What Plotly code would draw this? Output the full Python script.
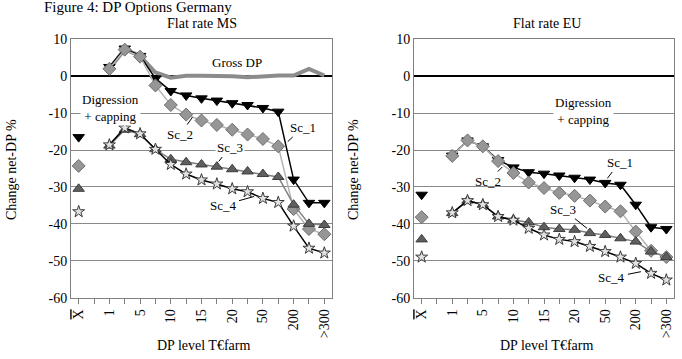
import plotly.graph_objects as go

# ---------------- data ----------------
categories = ["<span style='text-decoration:overline'>X</span>", "", "1", "", "5", "", "10", "", "15", "",
              "20", "", "50", "", "200", "", ">300"]
y_ticks = [10, 0, -10, -20, -30, -40, -50, -60]
y_tick_text = ["10", "0", "-10", "-20", "-30", "-40", "-50", "-60"]

# Flat rate MS (left panel); values for categories index 2..16, mean at index 0
ms_gross = [2.0, 7.3, 5.5, 1.0, -0.4, 0.1, 0.1, 0.1, 0.0, -0.3, 0.0, 0.2, 0.2, 2.0, 0.2]
ms_sc1 = [2.5, 7.5, 5.5, -0.6, -4.0, -5.2, -6.0, -6.6, -7.3, -7.8, -8.6, -9.6, -28.0, -34.3, -34.3]
ms_sc2 = [2.0, 7.2, 5.3, -2.5, -7.8, -10.4, -12.0, -13.2, -14.5, -15.8, -17.0, -19.0, -36.0, -41.4, -42.8]
ms_sc3 = [-18.8, -14.5, -15.7, -19.8, -22.5, -23.3, -23.9, -24.5, -25.2, -25.8, -26.5, -27.3, -34.8, -40.0, -40.3]
ms_sc4 = [-18.6, -14.0, -15.6, -19.8, -23.9, -26.5, -28.1, -29.2, -30.5, -31.3, -33.1, -34.2, -40.6, -46.6, -47.9]
ms_mean = [-16.5, -24.3, -30.5, -36.7]   # Sc_1..Sc_4 at X-bar

# Flat rate EU (right panel)
eu_sc1 = [-21.5, -17.4, -19.0, -22.7, -24.7, -26.0, -26.4, -26.9, -27.5, -28.0, -28.9, -29.4, -34.8, -40.9, -41.4]
eu_sc2 = [-21.6, -17.4, -19.0, -23.0, -26.2, -28.8, -30.3, -31.6, -32.4, -33.7, -35.3, -36.6, -42.1, -47.3, -49.0]
eu_sc3 = [-37.1, -33.7, -34.8, -38.0, -38.9, -39.6, -40.9, -41.4, -41.6, -42.5, -43.0, -43.9, -44.8, -47.5, -49.0]
eu_sc4 = [-37.0, -33.7, -34.8, -38.0, -39.0, -41.2, -43.0, -44.2, -44.8, -46.1, -47.5, -49.0, -50.7, -53.4, -55.2]
eu_mean = [-32.1, -38.2, -44.2, -49.0]

# ---------------- styling ----------------
W, H = 682, 359
FONT = "Liberation Serif, Times New Roman, serif"
x_pos = list(range(len(categories)))
x_series = x_pos[2:]

styles = {
    "Sc_1": dict(line=dict(color="black", width=1.5),
                 marker=dict(symbol="triangle-down", size=10, color="black",
                             line=dict(color="black", width=1))),
    "Sc_2": dict(line=dict(color="#b4b4b4", width=1.5),
                 marker=dict(symbol="diamond", size=10, color="#969696",
                             line=dict(color="#6e6e6e", width=1))),
    "Sc_3": dict(line=dict(color="#7f7f7f", width=1.5),
                 marker=dict(symbol="triangle-up", size=10, color="#5f5f5f",
                             line=dict(color="#3c3c3c", width=1))),
    "Sc_4": dict(line=dict(color="black", width=1.5),
                 marker=dict(symbol="star", size=9, color="#e2e2e2",
                             line=dict(color="#3a3a3a", width=1))),
}

fig = go.Figure()


def add_panel(xa, ya, series, means, gross=None):
    if gross is not None:
        fig.add_trace(go.Scatter(x=x_series, y=gross, mode="lines", xaxis=xa, yaxis=ya,
                                 line=dict(color="#8c8c8c", width=4), showlegend=False,
                                 hoverinfo="skip"))
    for (name, vals), m in zip(series.items(), means):
        st = styles[name]
        xs = [x_pos[0], x_pos[1]] + x_series
        ys = [m, None] + vals
        fig.add_trace(go.Scatter(x=xs, y=ys, mode="lines+markers", xaxis=xa, yaxis=ya,
                                 line=st["line"], marker=st["marker"], connectgaps=False,
                                 showlegend=False, name=name))


add_panel("x", "y", {"Sc_1": ms_sc1, "Sc_2": ms_sc2, "Sc_3": ms_sc3, "Sc_4": ms_sc4}, ms_mean, ms_gross)
add_panel("x2", "y2", {"Sc_1": eu_sc1, "Sc_2": eu_sc2, "Sc_3": eu_sc3, "Sc_4": eu_sc4}, eu_mean)

ydom = [1 - 297.7 / H, 1 - 39.3 / H]

xaxis_common = dict(range=[-0.5, len(categories) - 0.5], tickmode="array", tickvals=x_pos,
                    ticktext=categories, tickangle=-90, ticks="outside", ticklen=5,
                    tickcolor="#808080", showgrid=False, zeroline=False, showline=True,
                    mirror=True, linecolor="#808080", linewidth=1, automargin=False,
                    tickfont=dict(family=FONT, size=14, color="black"), fixedrange=True)
yaxis_common = dict(range=[-60, 10], tickmode="array", tickvals=y_ticks, ticktext=y_tick_text,
                    ticks="", showgrid=True, gridcolor="#8a8a8a", gridwidth=1,
                    zeroline=True, zerolinecolor="black", zerolinewidth=2,
                    showline=True, mirror=True, linecolor="#808080", linewidth=1,
                    automargin=False, tickfont=dict(family=FONT, size=14, color="black"),
                    fixedrange=True)

fig.update_layout(
    width=W, height=H, margin=dict(l=0, r=0, t=0, b=0),
    paper_bgcolor="white", plot_bgcolor="white", template="none",
    font=dict(family=FONT, size=14, color="black"),
    xaxis=dict(domain=[71 / W, 332 / W], anchor="y", **xaxis_common),
    yaxis=dict(domain=ydom, anchor="x", **yaxis_common),
    xaxis2=dict(domain=[414 / W, 674 / W], anchor="y2", **xaxis_common),
    yaxis2=dict(domain=ydom, anchor="x2", **yaxis_common),
)


def pa(text, px, py, size=14, angle=0, xanchor="center"):
    fig.add_annotation(text=text, x=px / W, y=1 - py / H, xref="paper", yref="paper",
                       showarrow=False, textangle=angle, xanchor=xanchor, yanchor="middle",
                       font=dict(family=FONT, size=size, color="black"))


pa("Figure 4: DP Options Germany", 42, 7, size=15, xanchor="left")
pa("Flat rate MS", 202, 23, size=14)
pa("Flat rate EU", 547, 23, size=14)
pa("Change net-DP %", 12, 170, angle=-90)
pa("Change net-DP %", 354, 170, angle=-90)
pa("DP level T€farm", 203, 345)
pa("DP level T€farm", 546, 345)


def da(text, xref, yref, x, y, ax=None, ay=None, bg=None):
    kw = dict(text=text, xref=xref, yref=yref, x=x, y=y,
              font=dict(family=FONT, size=13, color="black"))
    if bg:
        kw["bgcolor"] = bg
    if ax is None:
        kw["showarrow"] = False
    else:
        kw.update(showarrow=True, arrowhead=0, arrowwidth=1, arrowcolor="black",
                  ax=ax, ay=ay, standoff=1, startstandoff=1)
    fig.add_annotation(**kw)


# left panel labels
da("Gross DP", "x", "y", 10.3, 3.8)
da("Digression<br>+ capping", "x", "y", 2.1, -8.5, bg="white")
da("Sc_2", "x", "y", 7.45, -10.9, ax=-13, ay=18)
da("Sc_1", "x", "y", 13.57, -17.9, ax=16, ay=-15)
da("Sc_3", "x", "y", 9.08, -23.3, ax=12, ay=-15, bg="white")
da("Sc_4", "x", "y", 11.49, -32.5, ax=-32, ay=9)

# right panel labels
da("Digression<br>+ capping", "x2", "y2", 10.55, -9.5, bg="white")
da("Sc_1", "x2", "y2", 12.1, -27.9, ax=13, ay=-17)
da("Sc_2", "x2", "y2", 5.32, -24.4, ax=-15, ay=15)
da("Sc_3", "x2", "y2", 10.87, -41.4, ax=-25, ay=-20)
da("Sc_4", "x2", "y2", 14.4, -52.9, ax=-30, ay=6)

fig.write_html("out.html")
